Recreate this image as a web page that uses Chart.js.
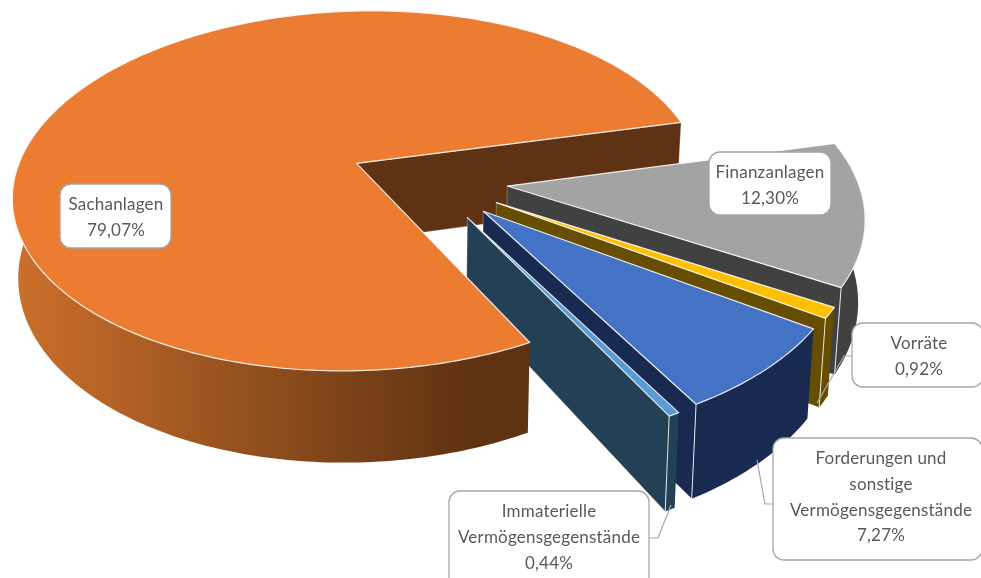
<!DOCTYPE html>
<html>
<head>
<meta charset="utf-8">
<style>
  html, body { margin: 0; background: #fff; overflow: hidden; }
  canvas { display: block; }
</style>
<script src="https://cdn.jsdelivr.net/npm/chart.js@4"></script>
</head>
<body>
<canvas id="chart" width="981" height="578"></canvas>
<script>
const categories = ["Finanzanlagen", "Vorräte", "Forderungen und sonstige Vermögensgegenstände", "Immaterielle Vermögensgegenstände", "Sachanlagen"];
const shares = [12.30, 0.92, 7.27, 0.44, 79.07];
const labelLines = [["Finanzanlagen"], ["Vorräte"], ["Forderungen und", "sonstige", "Vermögensgegenstände"], ["Immaterielle", "Vermögensgegenstände"], ["Sachanlagen"]];
const topColors = ["#A3A3A3", "#FFC000", "#4472C4", "#5B9BD5", "#EB7C31"];
const wallColors = ["#414141", "#664D00", "#182A50", "#244055", "#5F3214"];

// label boxes: x, y, w, h, text centre, and an optional leader line
const boxes = [
  { x: 709, y: 152, w: 122, h: 63, tx: 770 },
  { x: 852, y: 323, w: 131, h: 64, tx: 919, leader: [[852, 356], [844, 356], [817, 403]] },
  { x: 773, y: 438, w: 209, h: 122, tx: 881, leader: [[774, 504], [765, 504], [757, 460]] },
  { x: 449, y: 491, w: 200, h: 100, tx: 549, leader: [[649, 538], [658, 538], [671, 505]] },
  { x: 60, y: 184, w: 111, h: 64, tx: 116 }
];

// camera for the tilted pie
const cam = { cx: 428, cy: 180, rx: 346, ry: 181, p: 0.155, skew: 0.038, shear: -0.05, depth: 79, vx: 403, tx: 0.015 };

function project(u, v) {
  const s = 1 / (1 - cam.p * v);
  return { x: cam.cx + cam.rx * (u + cam.skew * v) * s, y: cam.cy + cam.ry * (v + cam.shear * u) * s, s };
}
function lower(pt) {
  return { x: pt.x + (cam.vx - pt.x) * cam.tx, y: pt.y + cam.depth * pt.s };
}

function slicePoints(arc) {
  const R = arc.outerRadius;
  const off = arc.options.offset / R;
  const mid = (arc.startAngle + arc.endAngle) / 2;
  const ox = Math.cos(mid) * off, oy = Math.sin(mid) * off;
  const apex = project(ox, oy);
  const n = Math.max(2, Math.ceil((arc.endAngle - arc.startAngle) * 60));
  const rim = [], front = [];
  for (let i = 0; i <= n; i++) {
    const a = arc.startAngle + (arc.endAngle - arc.startAngle) * i / n;
    const pt = project(ox + Math.cos(a), oy + Math.sin(a));
    rim.push(pt);
    if (Math.sin(a) > -0.15) front.push(pt);
  }
  return { apex, rim, front, endFront: Math.sin(arc.endAngle) > -0.15 };
}

function poly(ctx, pts, fill, stroke, lw) {
  ctx.beginPath();
  pts.forEach((p, i) => i ? ctx.lineTo(p.x, p.y) : ctx.moveTo(p.x, p.y));
  ctx.closePath();
  ctx.fillStyle = fill;
  ctx.fill();
  if (stroke) {
    ctx.strokeStyle = stroke;
    ctx.lineWidth = lw || 1;
    ctx.stroke();
  }
}

function drawEndWall(ctx, s, i) {
  const end = s.rim[s.rim.length - 1];
  poly(ctx, [s.apex, end, lower(end), lower(s.apex)], wallColors[i], "rgba(255,255,255,0.35)", 0.8);
}

function drawRim(ctx, s, i, fill) {
  const pts = s.front.concat(s.front.map(lower).reverse());
  poly(ctx, pts, fill || wallColors[i]);
  if (!s.endFront) return;
  // white seam between the radial wall and the rim
  const end = s.rim[s.rim.length - 1];
  const b = lower(end);
  ctx.beginPath();
  ctx.moveTo(end.x, end.y);
  ctx.lineTo(b.x, b.y);
  ctx.strokeStyle = "rgba(255,255,255,0.8)";
  ctx.lineWidth = 1;
  ctx.stroke();
}

function drawTop(ctx, s, i) {
  poly(ctx, [s.apex].concat(s.rim), topColors[i], "rgba(255,255,255,0.85)", 1.2);
}

const pie3d = {
  id: "pie3d",
  beforeDatasetDraw(chart, args) {
    const ctx = chart.ctx;
    const arcs = chart.getDatasetMeta(args.index).data;
    const slices = arcs.map(slicePoints);
    const big = slices.length - 1;

    ctx.save();
    ctx.lineJoin = "round";
    drawEndWall(ctx, slices[big], big);
    for (let i = 0; i < big; i++) {
      drawEndWall(ctx, slices[i], i);
      drawRim(ctx, slices[i], i);
      drawTop(ctx, slices[i], i);
    }
    const g = ctx.createLinearGradient(15, 0, 470, 0);
    g.addColorStop(0, "#CB6F2B");
    g.addColorStop(1, "#5F3212");
    drawRim(ctx, slices[big], big, g);
    drawTop(ctx, slices[big], big);
    ctx.restore();
    return false;
  },
  afterDraw(chart) {
    const ctx = chart.ctx;
    ctx.save();
    boxes.forEach((b, i) => {
      if (b.leader) {
        ctx.beginPath();
        b.leader.forEach((p, k) => k ? ctx.lineTo(p[0], p[1]) : ctx.moveTo(p[0], p[1]));
        ctx.strokeStyle = "#A6A6A6";
        ctx.lineWidth = 1.2;
        ctx.stroke();
      }
      ctx.beginPath();
      ctx.roundRect(b.x, b.y, b.w, b.h, 11);
      ctx.fillStyle = "#fff";
      ctx.fill();
      ctx.strokeStyle = "#A6A6A6";
      ctx.lineWidth = 1.3;
      ctx.stroke();

      const lines = labelLines[i].concat(shares[i].toFixed(2).replace(".", ",") + "%");
      ctx.font = "17px Lato";
      ctx.letterSpacing = "0.2px";
      ctx.fillStyle = "#595959";
      ctx.textAlign = "center";
      ctx.textBaseline = "middle";
      lines.forEach((t, k) => ctx.fillText(t, b.tx, b.y + 21 + k * 25.6));
    });
    ctx.restore();
  }
};

new Chart(document.getElementById("chart"), {
  type: "pie",
  data: {
    labels: categories,
    datasets: [{ data: shares, backgroundColor: topColors, offset: 55, radius: 239 }]
  },
  options: {
    responsive: false,
    animation: false,
    rotation: 79,
    events: [],
    layout: { padding: 0 },
    plugins: { legend: { display: false }, tooltip: { enabled: false } }
  },
  plugins: [pie3d]
});
</script>
</body>
</html>
